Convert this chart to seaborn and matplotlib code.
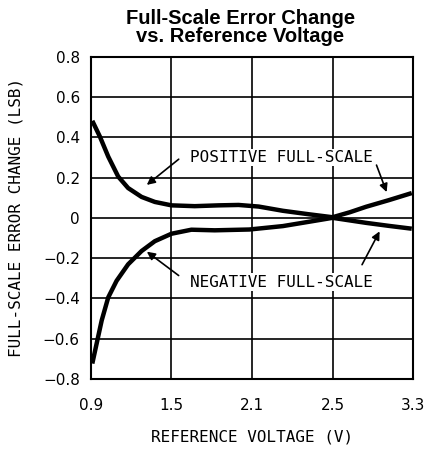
import matplotlib
matplotlib.use("Agg")
import matplotlib.pyplot as plt
import seaborn as sns
import pandas as pd

# posiciones en el eje (rejilla uniforme), etiquetas tal como en la hoja de datos
tick_pos = [0.9, 1.5, 2.1, 2.7, 3.3]
tick_labels = ["0.9", "1.5", "2.1", "2.5", "3.3"]

pos_x = [0.91, 0.967, 1.029, 1.103, 1.177, 1.277, 1.376, 1.50, 1.673, 1.85,
         2.0, 2.15, 2.33, 2.52, 2.70, 2.83, 2.95, 3.12, 3.29]
pos_y = [0.482, 0.403, 0.304, 0.205, 0.148, 0.104, 0.079, 0.062, 0.058, 0.062,
         0.064, 0.056, 0.035, 0.018, 0.003, 0.028, 0.055, 0.088, 0.123]

neg_x = [0.91, 0.942, 0.98, 1.029, 1.091, 1.177, 1.277, 1.376, 1.50, 1.648,
         1.822, 2.08, 2.33, 2.52, 2.70, 2.83, 2.95, 3.12, 3.29]
neg_y = [-0.724, -0.626, -0.51, -0.395, -0.313, -0.231, -0.165, -0.116, -0.079, -0.059,
         -0.062, -0.058, -0.041, -0.02, 0.0, -0.013, -0.025, -0.04, -0.054]

df = pd.concat([
    pd.DataFrame({"v": pos_x, "err": pos_y, "serie": "pos"}),
    pd.DataFrame({"v": neg_x, "err": neg_y, "serie": "neg"}),
])

sns.set_style("white")
plt.rcParams["font.family"] = ["DejaVu Sans"]
plt.rcParams["text.color"] = "black"
plt.rcParams["axes.labelcolor"] = "black"

fig = plt.figure(figsize=(4.25, 4.51), dpi=100)
ax = fig.add_axes([0.214, 0.160, 0.758, 0.714])

sns.lineplot(data=df, x="v", y="err", hue="serie", palette=["black", "black"],
             linewidth=3.2, legend=False, ax=ax, sort=True,
             solid_joinstyle="round", solid_capstyle="butt")

ax.set_xlim(0.9, 3.3)
ax.set_ylim(-0.8, 0.8)
ax.set_xticks(tick_pos)
ax.set_xticklabels(tick_labels)
ax.set_yticks([-0.8, -0.6, -0.4, -0.2, 0, 0.2, 0.4, 0.6, 0.8])
ax.set_yticklabels(["\u22120.8", "\u22120.6", "\u22120.4", "\u22120.2", "0", "0.2", "0.4", "0.6", "0.8"])
ax.tick_params(labelsize=11, length=0, pad=8, colors="black")
ax.tick_params(axis="x", pad=14)
ax.grid(True, color="black", linewidth=1.2)
for s in ax.spines.values():
    s.set_color("black")
    s.set_linewidth(1.5)

mono = "DejaVu Sans Mono"
ax.set_xlabel("REFERENCE VOLTAGE (V)", fontsize=11.5, labelpad=12, family=mono)
ax.set_ylabel("FULL-SCALE ERROR CHANGE (LSB)", fontsize=11.5, labelpad=14, family=mono)

fig.text(0.565, 0.939, "Full-Scale Error Change\nvs. Reference Voltage", fontsize=14.5,
         fontweight="bold", family="Liberation Sans", ha="center", va="center",
         linespacing=0.92)

# anotaciones
arrow = dict(arrowstyle="-|>", color="black", lw=1.2, mutation_scale=12)
ax.text(2.32, 0.30, "POSITIVE FULL-SCALE", fontsize=11.5, ha="center", va="center",
        family=mono, bbox=dict(facecolor="white", edgecolor="none", pad=1))
ax.annotate("", xy=(1.30, 0.155), xytext=(1.57, 0.30), arrowprops=arrow)
ax.annotate("", xy=(3.11, 0.115), xytext=(3.02, 0.275), arrowprops=arrow)

ax.text(2.32, -0.32, "NEGATIVE FULL-SCALE", fontsize=11.5, ha="center", va="center",
        family=mono, bbox=dict(facecolor="white", edgecolor="none", pad=1))
ax.annotate("", xy=(1.30, -0.16), xytext=(1.57, -0.295), arrowprops=arrow)
ax.annotate("", xy=(3.06, -0.055), xytext=(2.91, -0.245), arrowprops=arrow)

fig.savefig("out.png", dpi=100)
